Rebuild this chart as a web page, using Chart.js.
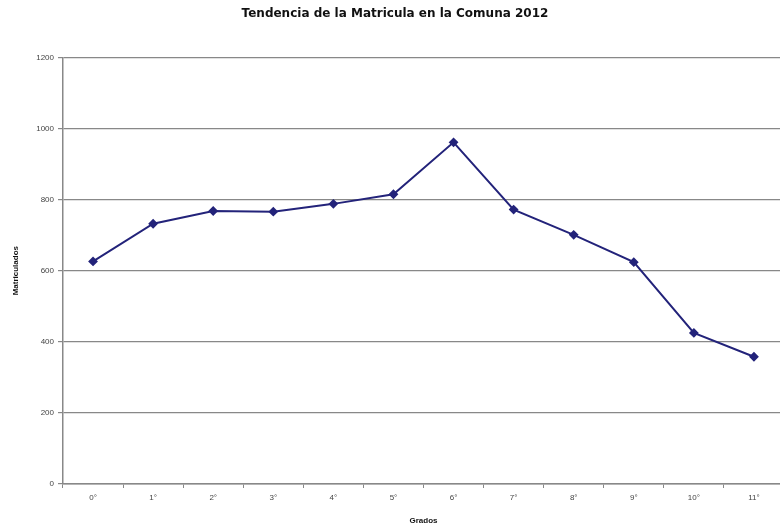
<!DOCTYPE html>
<html>
<head>
<meta charset="utf-8">
<script src="https://cdn.jsdelivr.net/npm/chart.js@4/dist/chart.umd.min.js"></script>
<style>
  html, body { margin: 0; padding: 0; background: #fff; overflow: hidden; }
  #wrap { width: 790px; height: 526px; }
</style>
</head>
<body>
<div id="wrap"><canvas id="matricula"></canvas></div>
<script>
// Matricula por grado, comuna 2012
var grados = ['0°', '1°', '2°', '3°', '4°', '5°', '6°', '7°', '8°', '9°', '10°', '11°'];
var matriculados = [626, 732, 768, 766, 788, 815, 961, 772, 701, 624, 425, 358];

var ctx = document.getElementById('matricula');

var chart = new Chart(ctx, {
  type: 'line',
  data: {
    labels: grados,
    datasets: [{
      label: 'Matriculados',
      data: matriculados,
      borderColor: '#23237a',
      backgroundColor: '#23237a',
      borderWidth: 2,
      pointStyle: 'rectRot',
      pointRadius: 3.5,
      tension: 0,
      fill: false
    }]
  },
  options: {
    responsive: true,
    maintainAspectRatio: false,
    animation: false,
    layout: { padding: 0 },
    plugins: {
      legend: { display: false },
      tooltip: { enabled: false },
      title: {
        display: true,
        text: 'Tendencia de la Matricula en la Comuna 2012',
        color: '#111',
        font: { family: 'DejaVu Sans', size: 12, weight: 'bold' },
        padding: { top: 7, bottom: 36 }
      }
    },
    scales: {
      x: {
        offset: true,
        grid: {
          display: true,
          offset: true,
          drawOnChartArea: false,
          drawTicks: true,
          tickLength: 4,
          color: '#888'
        },
        border: { color: '#888', width: 1.5 },
        ticks: {
          color: '#444',
          padding: 5,
          font: { family: 'Liberation Sans', size: 8 },
          maxRotation: 0
        },
        title: {
          display: true,
          text: 'Grados',
          color: '#111',
          font: { family: 'Liberation Sans', size: 8, weight: 'bold' },
          padding: { top: 8, bottom: 0 }
        },
        afterFit: function(scale) { scale.height = 42; }
      },
      y: {
        min: 0,
        max: 1200,
        grid: {
          color: '#888',
          lineWidth: 1.2,
          tickLength: 5
        },
        border: { color: '#888', width: 1.5 },
        ticks: {
          stepSize: 200,
          color: '#444',
          padding: 4,
          font: { family: 'Liberation Sans', size: 8 },
          callback: function(value) { return String(value); }
        },
        title: {
          display: true,
          text: 'Matriculados',
          color: '#111',
          font: { family: 'Liberation Sans', size: 8, weight: 'bold' },
          padding: { top: 11, bottom: 6 }
        },
        afterFit: function(scale) { scale.width = 63; }
      }
    }
  }
});
</script>
</body>
</html>
